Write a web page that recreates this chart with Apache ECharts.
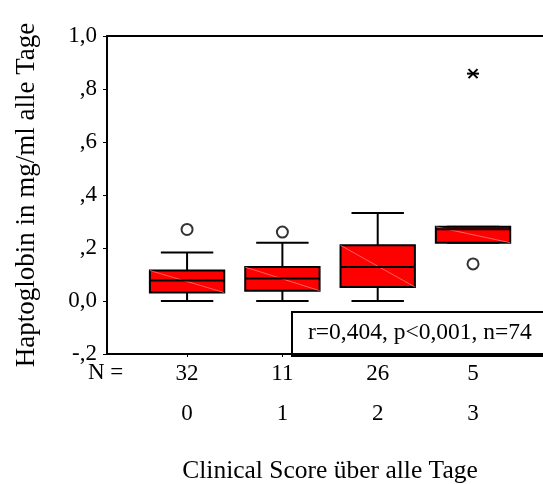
<!DOCTYPE html>
<html>
<head>
<meta charset="utf-8">
<script src="https://cdn.jsdelivr.net/npm/echarts@6/dist/echarts.min.js"></script>
<style>
html,body{margin:0;padding:0;background:#fff;}
#chart{width:543px;height:484px;}
</style>
</head>
<body>
<div id="chart"></div>
<script>
// ---- data ----
var categories = ['0', '1', '2', '3'];
var counts = [32, 11, 26, 5];
// [low whisker, Q1, median, Q3, high whisker]
var boxLow    = [0.000, 0.000, 0.000, 0.220];
var boxQ1     = [0.032, 0.039, 0.053, 0.220];
var boxMedian = [0.077, 0.085, 0.128, 0.271];
var boxQ3     = [0.115, 0.128, 0.210, 0.280];
var boxHigh   = [0.183, 0.220, 0.332, 0.280];
var outliersCircle = [[0, 0.270], [1, 0.260], [3, 0.140]];
var outliersStar = [[3, 0.858]];
var yTickValues = [-0.2, 0, 0.2, 0.4, 0.6, 0.8, 1.0];
var yTickLabels = ['-,2', '0,0', ',2', ',4', ',6', ',8', '1,0'];
var statsText = 'r=0,404, p<0,001, n=74';
var yTitle = 'Haptoglobin in mg/ml alle Tage';
var xTitle = 'Clinical Score über alle Tage';

var FONT = 'Liberation Serif';
var boxData = categories.map(function (c, i) {
  return [i, boxLow[i], boxQ1[i], boxMedian[i], boxQ3[i], boxHigh[i]];
});

var chart = echarts.init(document.getElementById('chart'));
var BOX_W = 0.78, CAP_W = 0.55;
var X_MIN = -0.84, X_MAX = 3.734;

function renderBox(params, api) {
  var x = api.value(0);
  var lo = api.coord([x, api.value(1)]);
  var q1 = api.coord([x, api.value(2)]);
  var md = api.coord([x, api.value(3)]);
  var q3 = api.coord([x, api.value(4)]);
  var hi = api.coord([x, api.value(5)]);
  var hb = api.size([BOX_W, 0])[0] / 2;
  var hc = api.size([CAP_W, 0])[0] / 2;
  var cx = lo[0];
  var ls = {stroke: '#000', lineWidth: 2};
  return {
    type: 'group',
    children: [
      {type: 'line', shape: {x1: cx, y1: hi[1], x2: cx, y2: q3[1]}, style: ls},
      {type: 'line', shape: {x1: cx, y1: q1[1], x2: cx, y2: lo[1]}, style: ls},
      {type: 'line', shape: {x1: cx - hc, y1: hi[1], x2: cx + hc, y2: hi[1]}, style: ls},
      {type: 'line', shape: {x1: cx - hc, y1: lo[1], x2: cx + hc, y2: lo[1]}, style: ls},
      {type: 'rect', shape: {x: cx - hb, y: q3[1], width: hb * 2, height: q1[1] - q3[1]},
        style: {fill: '#ff0000', stroke: '#000', lineWidth: 2}},
      {type: 'line', shape: {x1: cx - hb, y1: q3[1], x2: cx + hb, y2: q1[1]},
        style: {stroke: '#ff8a8a', lineWidth: 0.7}},
      {type: 'line', shape: {x1: cx - hb, y1: md[1], x2: cx + hb, y2: md[1]}, style: ls}
    ]
  };
}

function renderStar(params, api) {
  var p = api.coord([api.value(0), api.value(1)]);
  var r = 6, d = 4.5;
  var s = {stroke: '#000', lineWidth: 2};
  return {
    type: 'group',
    children: [
      {type: 'line', shape: {x1: p[0] - r, y1: p[1], x2: p[0] + r, y2: p[1]}, style: s},
      {type: 'line', shape: {x1: p[0] - d, y1: p[1] - d, x2: p[0] + d, y2: p[1] + d}, style: s},
      {type: 'line', shape: {x1: p[0] - d, y1: p[1] + d, x2: p[0] + d, y2: p[1] - d}, style: s}
    ]
  };
}

chart.setOption({
  animation: false,
  backgroundColor: '#fff',
  grid: {left: 107, top: 36, right: 0, bottom: 130, show: false, containLabel: false, outerBoundsMode: 'none'},
  xAxis: [{
    type: 'value', min: X_MIN, max: X_MAX,
    splitLine: {show: false},
    axisLine: {onZero: false, lineStyle: {color: '#000', width: 2}},
    axisTick: {show: true, customValues: [0, 1, 2, 3], length: 3, lineStyle: {color: '#000', width: 1}},
    axisLabel: {
      customValues: [0, 1, 2, 3], margin: 0,
      formatter: function (v) { var i = Math.round(v); return counts[i] + '\n' + categories[i]; },
      fontFamily: FONT, fontSize: 23, color: '#000', lineHeight: 40
    },
    name: xTitle, nameLocation: 'middle', nameGap: 104,
    nameTextStyle: {fontFamily: FONT, fontSize: 25.5, color: '#000', padding: [0, 0, 0, 10]}
  }, {
    type: 'value', position: 'top', min: X_MIN, max: X_MAX,
    splitLine: {show: false},
    axisLine: {onZero: false, lineStyle: {color: '#000', width: 2}},
    axisTick: {show: false}, axisLabel: {show: false}
  }],
  yAxis: {
    type: 'value', min: -0.2, max: 1.0, interval: 0.2,
    splitLine: {show: false},
    axisLine: {onZero: false, lineStyle: {color: '#000', width: 2}},
    axisTick: {show: true, length: 4, lineStyle: {color: '#000', width: 1}},
    axisLabel: {
      margin: 10, fontFamily: FONT, fontSize: 23, color: '#000',
      formatter: function (v) {
        for (var i = 0; i < yTickValues.length; i++) if (Math.abs(yTickValues[i] - v) < 1e-6) return yTickLabels[i];
        return '';
      }
    },
    name: yTitle, nameLocation: 'middle', nameGap: 67, nameRotate: 90,
    nameTextStyle: {fontFamily: FONT, fontSize: 27, color: '#000'}
  },
  graphic: [
    {type: 'text', left: 88, top: 361, style: {text: 'N =', font: '23px "Liberation Serif"', fill: '#000'}},
    {type: 'group', left: 291, top: 311, children: [
      {type: 'rect', shape: {x: 0, y: 0, width: 270, height: 44}, style: {fill: '#fff', stroke: '#000', lineWidth: 2}},
      {type: 'text', x: 16, y: 21, style: {text: statsText, font: '23.5px "Liberation Serif"', fill: '#000', verticalAlign: 'middle'}}
    ]}
  ],
  series: [
    {type: 'custom', renderItem: renderBox, data: boxData, encode: {x: 0, y: [1, 2, 3, 4, 5]}, z: 3},
    {type: 'scatter', data: outliersCircle, symbol: 'circle', symbolSize: 11,
      itemStyle: {color: '#fff', borderColor: '#000', borderWidth: 2}, z: 4},
    {type: 'custom', renderItem: renderStar, data: outliersStar, z: 4}
  ]
});
</script>
</body>
</html>
